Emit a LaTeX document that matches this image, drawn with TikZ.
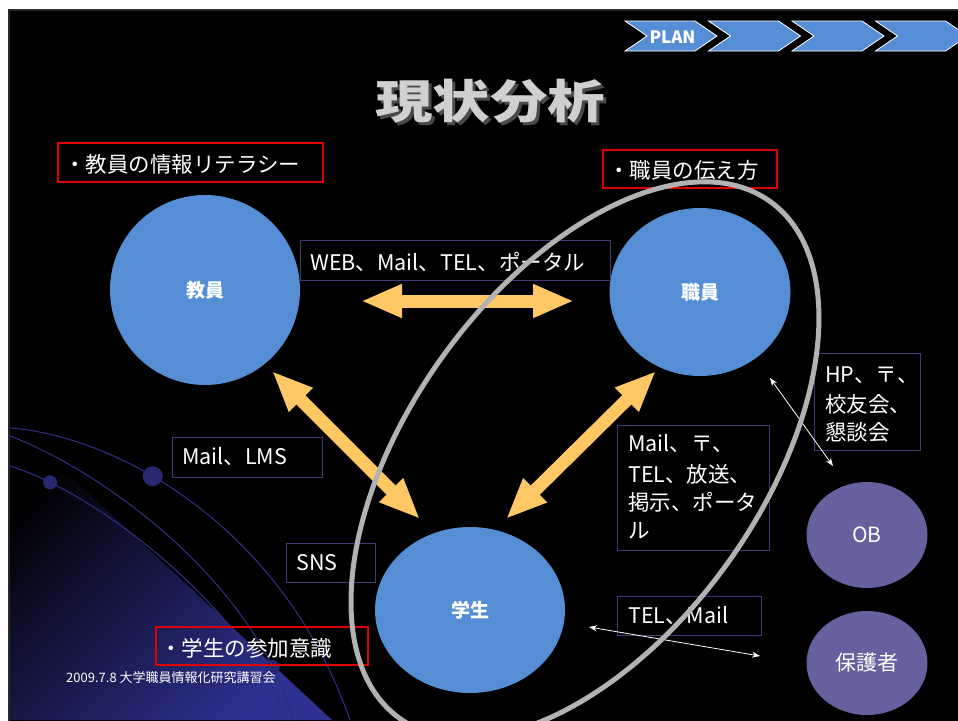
\documentclass[tikz,border=0pt]{standalone}
\usepackage{fontspec}
\setmainfont{Noto Sans CJK JP}
\usetikzlibrary{arrows.meta,shapes.geometric}
\definecolor{circblue}{HTML}{558ED5}
\definecolor{obpurple}{HTML}{65619F}
\definecolor{fatorange}{HTML}{FFC865}
\definecolor{ringgray}{HTML}{B2B2B2}
\definecolor{boxedge}{HTML}{403C7A}
\definecolor{rededge}{HTML}{E00000}
\definecolor{deepblue}{HTML}{2E3190}
\definecolor{lineblue}{HTML}{2B2F80}
\definecolor{dotblue}{HTML}{262970}
\definecolor{titlegray}{HTML}{D0D0D0}
\definecolor{shadowgray}{HTML}{4A4A4A}
\definecolor{slideedge}{HTML}{2A2A2A}
\newcommand\myfs[1]{\fontsize{#1}{#1}\selectfont}
\begin{document}
\begin{tikzpicture}[x=1pt,y=-1pt,
  txt/.style={text=white, inner sep=0pt, font=\myfs{21.5}},
  ltxt/.style={txt, anchor=west},
  circnode/.style={ellipse, fill=circblue, text=white, font=\bfseries\myfs{19}, inner sep=0pt},
  obnode/.style={ellipse, fill=obpurple, text=white, font=\myfs{21}, inner sep=0pt},
  tbox/.style={draw=boxedge, line width=1pt},
  rbox/.style={draw=rededge, line width=1.2pt},
  fatarrow/.style={draw=fatorange, line width=13pt, {Triangle[length=41pt,width=31pt]}-{Triangle[length=41pt,width=31pt]}},
  thinarrow/.style={draw=white, line width=0.8pt, {Stealth[length=8pt,width=6pt]}-{Stealth[length=8pt,width=6pt]}},
  chev/.style={fill=circblue, draw=white, line width=0.8pt},
  deco/.style={draw=lineblue, line width=1.1pt},
  ring/.style={draw=ringgray, line width=5pt},
]
\useasboundingbox (0,0) rectangle (958,720);
\fill[white] (0,0) rectangle (958,720);
\filldraw[fill=black, draw=slideedge, line width=2pt] (9,10) rectangle (962,724);
% background gradient
\shade[top color=black, middle color=deepblue!35!black, bottom color=deepblue, shading angle=45]
  (10,420) -- (10,720) -- (332,720) -- cycle;
% decorative curves
\draw[deco] (10,428) .. controls (110,435) and (280,520) .. (350,720) coordinate[pos=0.4] (dA);
\draw[deco] (10,436) .. controls (100,470) and (255,580) .. (293,720) coordinate[pos=0.87] (dB);
\draw[deco] (10,466) .. controls (90,490) and (240,600) .. (287,720) coordinate[pos=0.15] (dC);
\fill[dotblue] (dA) circle (10pt);
\fill[dotblue] (dB) circle (7pt);
\fill[dotblue] (dC) circle (7pt);
% chevrons
\foreach \L in {625,708.5,792,875.5}
  \draw[chev] (\L,21) -- ++(70,0) -- ++(22,15) -- ++(-22,15) -- ++(-70,0) -- ++(22,-15) -- cycle;
\node[text=white, font=\bfseries\myfs{17}, inner sep=0pt] (plan) at (672.5,37) {PLAN};
% title (with drop shadow in the same node)
\node[font=\bfseries\myfs{46}, xscale=1.25, inner sep=0pt] (title) at (490,103)
  {\rlap{\kern2.5pt\raisebox{-3pt}{\color{shadowgray}現状分析}}\color{titlegray}現状分析};
% red label boxes
\draw[rbox] (58,143) rectangle (323,182);
\node[ltxt] (lab1) at (64,164) {・教員の情報リテラシー};
\draw[rbox] (603,150) rectangle (777,188);
\node[ltxt] (lab2) at (608,170) {・職員の伝え方};
\draw[rbox] (156,627) rectangle (368,665);
\node[ltxt] (lab3) at (160,648) {・学生の参加意識};
% circles
\node[circnode, minimum width=190pt, minimum height=190pt] (kyoin) at (205,290) {教員};
\node[circnode, minimum width=181pt, minimum height=168pt] (shokuin) at (700,292) {職員};
\node[circnode, minimum width=190pt, minimum height=166pt] (gakusei) at (470,610) {学生};
\node[obnode, minimum width=121pt, minimum height=106pt] (ob) at (867,535) {OB};
\node[obnode, minimum width=121pt, minimum height=104pt] (hogosha) at (867,663) {保護者};
% text boxes
\draw[tbox] (300,240) rectangle (610,280);
\node[ltxt] (web) at (310,262) {WEB、Mail、TEL、ポータル};
\draw[tbox] (172,437) rectangle (322,477);
\node[ltxt] (lms) at (182,457) {Mail、LMS};
\draw[tbox] (286,543) rectangle (375,582);
\node[ltxt] (sns) at (296,563) {SNS};
\draw[tbox] (617,425) rectangle (769,550);
\node[ltxt] (m1) at (628,444) {Mail、〒、};
\node[ltxt] (m2) at (628,474) {TEL、放送、};
\node[ltxt] (m3) at (628,502) {掲示、ポータ};
\node[ltxt] (m4) at (628,531) {ル};
\draw[tbox] (814,353) rectangle (920,450);
\node[ltxt] (h1) at (825,375) {HP、〒、};
\node[ltxt] (h2) at (825,404) {校友会、};
\node[ltxt] (h3) at (825,432) {懇談会};
\draw[tbox] (617,596) rectangle (761,635);
\node[ltxt] (telmail) at (628,616) {TEL、Mail};
% footer
\node[text=white, inner sep=0pt, anchor=west, font=\myfs{13}] (footer) at (66,678) {2009.7.8 大学職員情報化研究講習会};
% fat arrows
\coordinate (kl) at (361,301);
\coordinate (kr) at (574,301);
\coordinate (ka) at (272,371);
\coordinate (kb) at (420,519);
\coordinate (sa) at (656,371);
\coordinate (sb) at (506,519);
\draw[fatarrow] (kl) -- (kr);
\draw[fatarrow] (ka) -- (kb);
\draw[fatarrow] (sa) -- (sb);
% thin arrows
\coordinate (t1) at (770,378);
\coordinate (t2) at (833,466);
\coordinate (t3) at (589,627);
\coordinate (t4) at (760,656);
\draw[thinarrow] (t1) -- (t2);
\draw[thinarrow] (t3) -- (t4);
% big gray ring
\coordinate (rc) at (585,460);
\draw[ring, rotate around={54.4:(rc)}] (rc) ellipse [x radius=318pt, y radius=176pt];
\end{tikzpicture}
\end{document}
